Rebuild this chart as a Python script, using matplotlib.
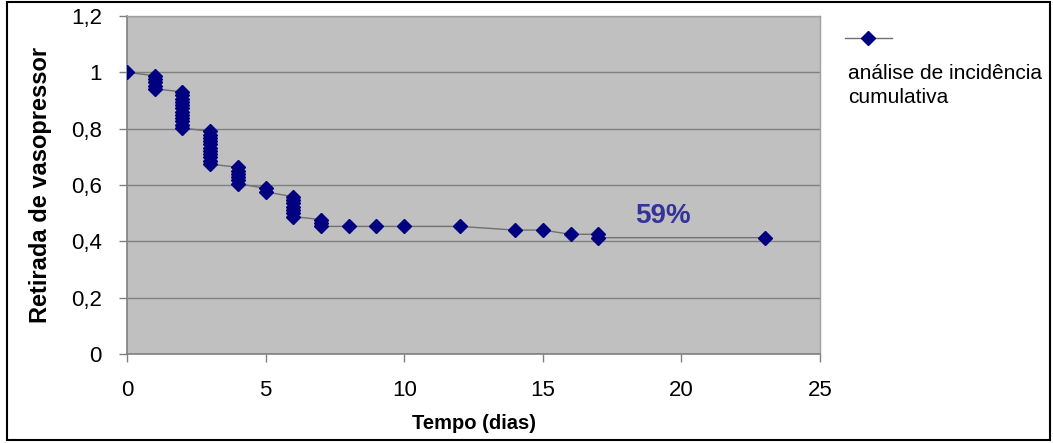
import matplotlib
matplotlib.use("Agg")
import matplotlib.pyplot as plt
from matplotlib.lines import Line2D
from matplotlib.patches import Rectangle
from matplotlib.ticker import FuncFormatter, MultipleLocator

plt.rcParams["font.family"] = ["Liberation Sans", "DejaVu Sans"]

# days since start, one entry per event
tempo = [
    0,
    1, 1, 1, 1, 1,
    2, 2, 2, 2, 2, 2, 2, 2, 2, 2, 2, 2,
    3, 3, 3, 3, 3, 3, 3, 3, 3, 3, 3,
    4, 4, 4, 4, 4, 4,
    5, 5,
    6, 6, 6, 6, 6, 6, 6,
    7, 7, 7,
    8, 9, 10, 12,
    14, 15, 16,
    17, 17,
    23,
]
# fraction still on vasopressor
retirada = [
    1.000,
    0.988, 0.977, 0.965, 0.953, 0.942,
    0.930, 0.919, 0.907, 0.895, 0.884, 0.872, 0.860, 0.849, 0.837, 0.826, 0.814, 0.802,
    0.791, 0.779, 0.767, 0.756, 0.744, 0.733, 0.721, 0.709, 0.698, 0.686, 0.674,
    0.663, 0.651, 0.640, 0.628, 0.616, 0.605,
    0.588, 0.576,
    0.558, 0.547, 0.535, 0.523, 0.512, 0.500, 0.488,
    0.477, 0.465, 0.453,
    0.453, 0.453, 0.453, 0.453,
    0.440, 0.440, 0.425,
    0.425, 0.413,
    0.413,
]
serie_label = "análise de incidência\ncumulativa"
anotacao = "59%"

NAVY = "#000080"
W, H = 1053, 443

fig = plt.figure(figsize=(W / 100, H / 100), dpi=100)
ax = fig.add_axes([127 / W, 1 - 354 / H, (820 - 127) / W, (354 - 16) / H])
ax.set_facecolor("#c0c0c0")

ax.plot(tempo, retirada, color="#707070", linewidth=1.0, zorder=2)
ax.plot(tempo, retirada, linestyle="none", marker="D", markersize=7,
        color=NAVY, markeredgecolor=NAVY, zorder=3)

ax.text(19.35, 0.49, anotacao, color="#333399", fontsize=20, fontweight="bold",
        ha="center", va="center")

ax.set_xlim(0, 25)
ax.set_ylim(0, 1.2)
ax.xaxis.set_major_locator(MultipleLocator(5))
ax.yaxis.set_major_locator(MultipleLocator(0.2))
comma = FuncFormatter(lambda v, _: f"{v:g}".replace(".", ","))
ax.xaxis.set_major_formatter(comma)
ax.yaxis.set_major_formatter(comma)
ax.grid(axis="y", color="#808080", linewidth=1.0)
ax.set_axisbelow(True)
ax.tick_params(labelsize=16, length=6, width=1, color="#808080")
ax.tick_params(axis="y", pad=12)
ax.tick_params(axis="x", pad=13)

for side in ("left", "bottom"):
    ax.spines[side].set_color("#808080")
    ax.spines[side].set_linewidth(1.2)
for side in ("top", "right"):
    ax.spines[side].set_color("#a0a0a0")
    ax.spines[side].set_linewidth(1.0)

ax.set_xlabel("Tempo (dias)", fontsize=14.5, fontweight="bold", labelpad=9)
ax.set_ylabel("Retirada de vasopressor", fontsize=17, fontweight="bold", labelpad=14)

# legend drawn by hand: sample line with marker above the wrapped label
ly = 1 - 38 / H
fig.add_artist(Line2D([845 / W, 892 / W], [ly, ly], color="#707070", linewidth=1.0))
fig.add_artist(Line2D([868 / W], [ly], marker="D", markersize=7, color=NAVY,
                      linestyle="none"))
fig.text(848 / W, 1 - 64 / H, serie_label, fontsize=15, va="top", ha="left",
         linespacing=1.35)

# outer frame
fig.add_artist(Rectangle((7 / W, 1 - 440 / H), (1050 - 7) / W, (440 - 2) / H,
                         transform=fig.transFigure, fill=False,
                         edgecolor="black", linewidth=1.5))

fig.savefig("out.png", dpi=100)
